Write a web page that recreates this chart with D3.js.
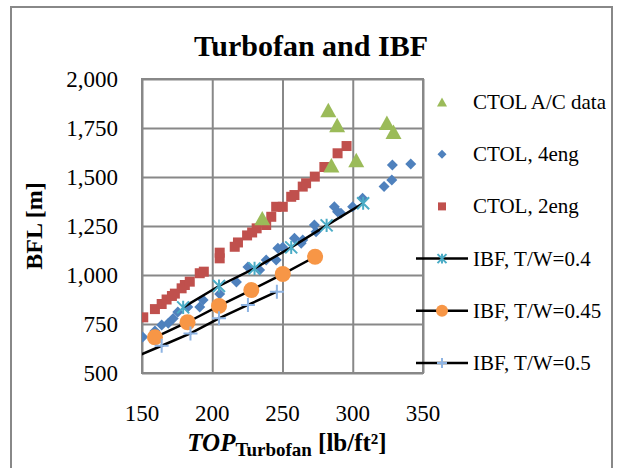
<!DOCTYPE html>
<html><head><meta charset="utf-8">
<script src="https://cdn.jsdelivr.net/npm/d3@7"></script>
<style>
html,body{margin:0;padding:0;background:#fff;}
svg text{font-family:"Liberation Serif","Times New Roman",serif;fill:#000;}
</style></head>
<body><svg id="c" width="622" height="468"></svg>
<script>
// ---- data ----
const xTicks = [150, 200, 250, 300, 350];
const yTicks = [500, 750, 1000, 1250, 1500, 1750, 2000];

const acX = [235.6, 282.6, 288.9, 284.8, 302.5, 324.3, 329.0];
const acY = [1290, 1842, 1765, 1560, 1587, 1777, 1731];

const eng4X = [150.5, 159.2, 164.0, 168.7, 172.2, 175.5, 182.6, 191.1, 193.5, 205.3, 217.2, 225.4, 233.7, 238.4, 245.5, 246.7, 250.2, 258.5, 263.3, 264.4, 272.7, 273.9, 286.9, 289.2, 291.6, 299.9, 307.0, 322.3, 327.8, 328.2, 341.3];
const eng4Y = [684, 714, 745, 754, 778, 811, 837, 837, 872, 903, 964, 1041, 1025, 1076, 1076, 1136, 1141, 1187, 1162, 1179, 1255, 1221, 1348, 1323, 1315, 1348, 1391, 1451, 1485, 1561, 1566];

const eng2X = [150.9, 159.2, 164.0, 167.5, 171.3, 173.4, 178.2, 180.5, 184.0, 191.1, 194.0, 205.3, 205.3, 216.0, 218.3, 224.8, 228.4, 231.6, 238.4, 242.0, 245.5, 250.2, 256.2, 258.5, 264.4, 266.8, 273.0, 279.8, 289.2, 295.6];
const eng2Y = [784, 826, 852, 875, 893, 905, 932, 949, 966, 1009, 1017, 1085, 1114, 1144, 1166, 1202, 1217, 1238, 1255, 1297, 1348, 1348, 1399, 1408, 1451, 1468, 1502, 1551, 1621, 1658];

const ibf40X = [179.3, 204.8, 230.1, 256.2, 281.4, 307.4];
const ibf40Y = [835, 944, 1034, 1141, 1253, 1366];

const ibf45X = [159.2, 182.4, 204.8, 227.8, 250.2, 273.2];
const ibf45Y = [682, 759, 842, 923, 1005, 1093];

const ibf50X = [143.5, 164.0, 184.5, 204.8, 225.4, 246.0];
const ibf50Y = [576, 639, 702, 779, 847, 915];

const legendLabels = ["CTOL A/C data", "CTOL, 4eng", "CTOL, 2eng", "IBF, T/W=0.4", "IBF, T/W=0.45", "IBF, T/W=0.5"];

// ---- chart ----
const svg = d3.select("#c");
const L = 142, R = 423, T = 79, B = 373;
const x = d3.scaleLinear().domain([150, 350]).range([L, R]);
const y = d3.scaleLinear().domain([500, 2000]).range([B, T]);
const gridCol = "#888888";

// outer border
svg.append("rect").attr("x", 11).attr("y", 7).attr("width", 601).attr("height", 470)
  .attr("fill", "none").attr("stroke", gridCol).attr("stroke-width", 2);

// title
svg.append("text").attr("x", 311).attr("y", 56).attr("text-anchor", "middle")
  .style("font-size", "30px").style("font-weight", "bold").text("Turbofan and IBF");

// grid
const gx = svg.append("g").attr("transform", `translate(0,${B})`)
  .call(d3.axisBottom(x).tickValues(xTicks).tickSize(-(B - T)).tickFormat(""));
const gy = svg.append("g").attr("transform", `translate(${L},0)`)
  .call(d3.axisLeft(y).tickValues(yTicks).tickSize(-(R - L)).tickFormat(""));
[gx, gy].forEach(g => {
  g.select(".domain").remove();
  g.selectAll("text").remove();
  g.selectAll("line").attr("stroke", gridCol).attr("stroke-width", 2);
});
svg.append("rect").attr("x", L).attr("y", T).attr("width", R - L).attr("height", B - T)
  .attr("fill", "none").attr("stroke", gridCol).attr("stroke-width", 2);

// tick labels (drawn from the scales)
const fmtY = d3.format(",");
svg.append("g").selectAll("text").data(xTicks).join("text")
  .attr("class", "tick-x")
  .attr("x", d => x(d)).attr("y", B + 48).attr("text-anchor", "middle")
  .style("font-size", "23px").text(d => d);
svg.append("g").selectAll("text").data(yTicks).join("text")
  .attr("class", "tick-y")
  .attr("x", L - 24).attr("y", d => y(d)).attr("dy", "0.33em").attr("text-anchor", "end")
  .style("font-size", "23px").text(d => fmtY(d));

// axis titles
svg.append("text").attr("transform", "translate(42,226) rotate(-90)").attr("text-anchor", "middle")
  .style("font-size", "24px").style("font-weight", "bold").text("BFL [m]");
const xt = svg.append("text").attr("x", 287).attr("y", 451).attr("text-anchor", "middle")
  .style("font-size", "25px").style("font-weight", "bold");
xt.append("tspan").style("font-style", "italic").text("TOP");
xt.append("tspan").attr("dy", 5).style("font-size", "19px").text("Turbofan");
xt.append("tspan").attr("dy", -5).text(" [lb/ft²]");

// markers
function markerPath(type, s) {
  const h = s / 2;
  switch (type) {
    case "tri": return `M0,${-h * 0.9}L${h},${h * 0.9}L${-h},${h * 0.9}Z`;
    case "dia": return `M0,${-h}L${h},0L0,${h}L${-h},0Z`;
    case "sq": return `M${-h},${-h}H${h}V${h}H${-h}Z`;
    case "ast": return `M${-h},${-h}L${h},${h}M${-h},${h}L${h},${-h}M0,${-h * 1.1}V${h * 1.1}`;
    case "plus": return `M${-h},0H${h}M0,${-h}V${h}`;
  }
}
function drawMarker(g, type, col, s) {
  const p = g.append("path").attr("d", markerPath(type, s));
  if (type === "ast" || type === "plus") p.attr("fill", "none").attr("stroke", col).attr("stroke-width", 2);
  else p.attr("fill", col);
  return p;
}

svg.append("clipPath").attr("id", "pc").append("rect")
  .attr("x", L).attr("y", T).attr("width", R - L).attr("height", B - T);
const plot = svg.append("g").attr("clip-path", "url(#pc)");

const scatterSeries = [
  {X: eng4X, Y: eng4Y, type: "dia", col: "#4F81BD", s: 11},
  {X: eng2X, Y: eng2Y, type: "sq", col: "#C0504D", s: 10},
  {X: acX, Y: acY, type: "tri", col: "#9BBB59", s: 16},
];
const lineSeries = [
  {X: ibf40X, Y: ibf40Y, type: "ast", col: "#4BACC6", s: 12},
  {X: ibf45X, Y: ibf45Y, type: "circ", col: "#F79646", s: 16},
  {X: ibf50X, Y: ibf50Y, type: "plus", col: "#8EB4E3", s: 14},
];
const line = d3.line().x(d => x(d[0])).y(d => y(d[1]));

function drawPoints(sr) {
  const pts = sr.X.map((v, i) => [v, sr.Y[i]]);
  pts.forEach(p => {
    const g = plot.append("g").attr("transform", `translate(${x(p[0])},${y(p[1])})`);
    if (sr.type === "circ") g.append("circle").attr("r", sr.s / 2).attr("fill", sr.col);
    else drawMarker(g, sr.type, sr.col, sr.s);
  });
}
scatterSeries.forEach(drawPoints);
lineSeries.forEach(sr => {
  const pts = sr.X.map((v, i) => [v, sr.Y[i]]);
  plot.append("path").datum(pts).attr("d", line).attr("fill", "none").attr("stroke", "#000").attr("stroke-width", 2.5);
  drawPoints(sr);
});

// legend
const legTypes = [
  {type: "tri", col: "#9BBB59", s: 10, ln: false},
  {type: "dia", col: "#4F81BD", s: 9, ln: false},
  {type: "sq", col: "#C0504D", s: 8, ln: false},
  {type: "ast", col: "#4BACC6", s: 9, ln: true},
  {type: "circ", col: "#F79646", s: 12, ln: true},
  {type: "plus", col: "#8EB4E3", s: 10, ln: true},
];
const legY = d3.scalePoint().domain(legendLabels).range([102, 363]);
legendLabels.forEach((lab, i) => {
  const cy = legY(lab), t = legTypes[i];
  if (t.ln) svg.append("line").attr("x1", 416).attr("x2", 468).attr("y1", cy).attr("y2", cy)
    .attr("stroke", "#000").attr("stroke-width", 2.5);
  const g = svg.append("g").attr("transform", `translate(442,${cy})`);
  if (t.type === "circ") g.append("circle").attr("r", t.s / 2).attr("fill", t.col);
  else drawMarker(g, t.type, t.col, t.s);
  svg.append("text").attr("x", 473).attr("y", cy).attr("dy", "0.33em")
    .style("font-size", "21px").text(lab);
});
</script></body></html>
